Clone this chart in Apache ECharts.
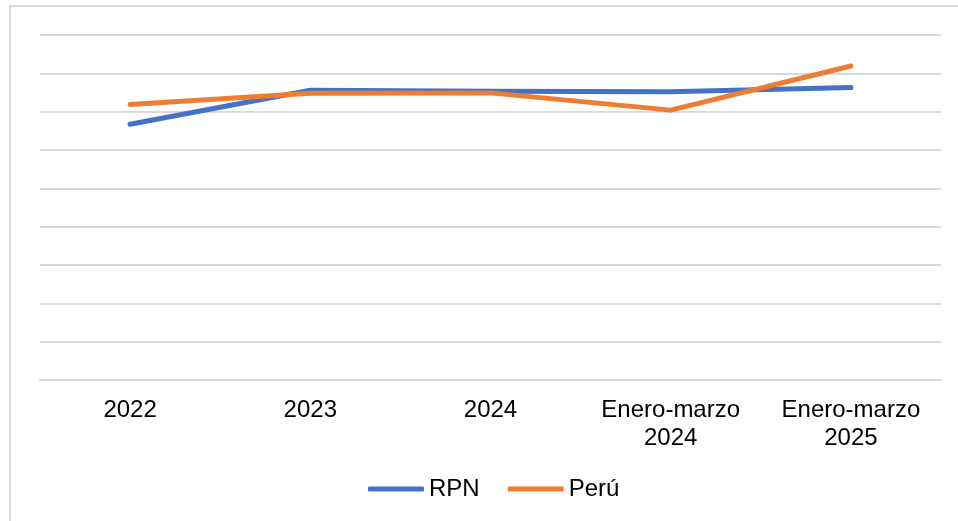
<!DOCTYPE html>
<html lang="es">
  <head>
    <meta charset="UTF-8" />
    <title>RPN vs Perú</title>
    <script src="https://cdn.jsdelivr.net/npm/echarts@6/dist/echarts.min.js"></script>
    <style>
      html, body { margin: 0; padding: 0; background: #fff; overflow: hidden; }
      #frame {
        position: absolute; left: 9px; top: 5px; width: 980px; height: 540px;
        border: 2px solid #d9d9d9; box-sizing: border-box;
      }
      #chart { position: absolute; left: 0; top: 0; width: 958px; height: 521px; }
    </style>
  </head>
  <body>
    <div id="frame"></div>
    <div id="chart"></div>

    <script type="text/javascript">
      // categories and values
      const categories = ["2022", "2023", "2024", "Enero-marzo\n2024", "Enero-marzo\n2025"];
      const rpnValues = [66.7, 75.6, 75.3, 75.2, 76.3];
      const peruValues = [71.9, 74.8, 74.9, 70.4, 81.9];

      let chart = echarts.init(document.getElementById("chart"));

      const font = "'Liberation Sans', Arial, sans-serif";

      const options = {
        animation: false,
        textStyle: { fontFamily: font },
        grid: { left: 40, right: 17, top: 35, bottom: 141 },
        legend: {
          top: 472,
          left: 363,
          itemWidth: 56,
          itemHeight: 5,
          itemGap: 28,
          icon: "roundRect",
          textStyle: { fontSize: 24, color: "#000", fontFamily: font },
          data: ["RPN", "Perú"],
        },
        xAxis: {
          type: "category",
          data: categories,
          boundaryGap: true,
          axisLine: { lineStyle: { color: "#d9d9d9", width: 2 } },
          axisTick: { show: false },
          axisLabel: {
            color: "#000",
            fontSize: 24,
            lineHeight: 28,
            margin: 16,
            fontFamily: font,
            interval: 0,
          },
        },
        yAxis: {
          type: "value",
          min: 0,
          max: 90,
          interval: 10,
          axisLabel: { show: false },
          axisLine: { show: false },
          axisTick: { show: false },
          splitLine: { lineStyle: { color: "#d9d9d9", width: 2 } },
        },
        series: [
          {
            name: "RPN",
            type: "line",
            data: rpnValues,
            symbol: "none",
            color: "#4472C4",
            lineStyle: { width: 5, cap: "round", join: "round" },
          },
          {
            name: "Perú",
            type: "line",
            data: peruValues,
            symbol: "none",
            color: "#ED7D31",
            lineStyle: { width: 5, cap: "round", join: "round" },
          },
        ],
      };

      chart.setOption(options);
    </script>
  </body>
</html>
